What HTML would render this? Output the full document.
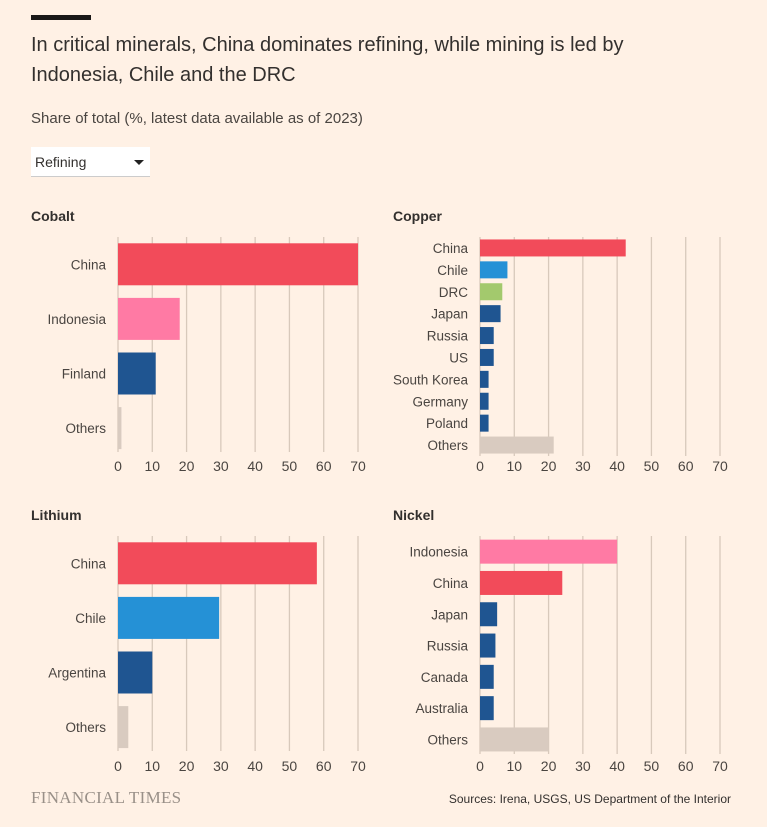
<!DOCTYPE html>
<html><head><meta charset="utf-8"><style>
body{margin:0;background:#fff1e5;font-family:"Liberation Sans",sans-serif;}
#wrap{position:relative;width:767px;height:827px;overflow:hidden;background:#fff1e5;}
.abs{position:absolute;}
</style></head><body>
<div id="wrap">
<div class="abs" style="left:31px;top:15px;width:60px;height:5px;background:#1a1817"></div>
<div class="abs" style="left:31px;top:30px;width:650px;font-size:20px;line-height:30px;color:#33302e">In critical minerals, China dominates refining, while mining is led by Indonesia, Chile and the DRC</div>
<div class="abs" style="left:31px;top:110px;font-size:15px;color:#4a4541">Share of total (%, latest data available as of 2023)</div>
<div class="abs" style="left:31px;top:147px;width:119px;height:30px;background:#fff;border-bottom:1px solid #ccc;font-size:14px;color:#33302e;line-height:30px;padding-left:4px;box-sizing:border-box">Refining<span style="position:absolute;right:6px;top:13px;width:0;height:0;border-left:5px solid transparent;border-right:5px solid transparent;border-top:5px solid #222"></span></div>
<svg id="svg" class="abs" style="left:0;top:0" width="767" height="827"></svg>
<div class="abs" style="left:31px;top:788px;font-family:'Liberation Serif',serif;font-size:17px;color:#999088;letter-spacing:0.3px">FINANCIAL TIMES</div>
<div class="abs" style="right:36px;top:792px;font-size:12px;color:#33302e">Sources: Irena, USGS, US Department of the Interior</div>
</div>
<script>
const cobaltCats=["China","Indonesia","Finland","Others"];
const cobaltVals=[70,18,11,1];
const copperCats=["China","Chile","DRC","Japan","Russia","US","South Korea","Germany","Poland","Others"];
const copperVals=[42.5,8,6.5,6,4,4,2.5,2.5,2.5,21.5];
const lithiumCats=["China","Chile","Argentina","Others"];
const lithiumVals=[58,29.5,10,3];
const nickelCats=["Indonesia","China","Japan","Russia","Canada","Australia","Others"];
const nickelVals=[40,24,5,4.5,4,4,20];
const ticks=[0,10,20,30,40,50,60,70];
const C={red:"#f24b5a",pink:"#ff7aa4",blue:"#1f5591",lblue:"#2591d6",green:"#a3c96d",other:"#d9cbc0"};
const cobaltCols=[C.red,C.pink,C.blue,C.other];
const copperCols=[C.red,C.lblue,C.green,C.blue,C.blue,C.blue,C.blue,C.blue,C.blue,C.other];
const lithiumCols=[C.red,C.lblue,C.blue,C.other];
const nickelCols=[C.pink,C.red,C.blue,C.blue,C.blue,C.blue,C.other];
const svg=document.getElementById('svg');
const NS="http://www.w3.org/2000/svg";
function mk(t,a){const e=document.createElementNS(NS,t);for(const k in a)e.setAttribute(k,a[k]);svg.appendChild(e);return e;}
function panel(name,title,cats,vals,cols,x0,titleX,titleY,gridTop,top,bottom,band,barH,tickY){
  const w=240,max=70;
  const xs=v=>x0+v/max*w;
  const t=mk('text',{x:titleX,y:titleY,'font-size':14,'font-weight':'bold',fill:'#33302e'});
  t.textContent=title;
  
  
  ticks.forEach(v=>{
    const l=mk('line',{x1:xs(v),x2:xs(v),y1:gridTop,y2:bottom,stroke:'#d8c9bb','stroke-width':1.3});
    
    
    const tl=mk('text',{x:xs(v),y:tickY,'font-size':14,fill:'#4a4541','text-anchor':'middle'});
    tl.textContent=v;
    
    
  });
  cats.forEach((c,i)=>{
    const cy=top+band*(i+0.5);
    const r=mk('rect',{x:x0,y:cy-barH/2,width:Math.max(0,xs(vals[i])-x0),height:barH,fill:cols[i]});
    
    
    const lb=mk('text',{x:x0-12,y:cy+5,'font-size':13.5,fill:'#4a4541','text-anchor':'end'});
    lb.textContent=c;
    
    
  });
}
panel('cobalt','Cobalt',cobaltCats,cobaltVals,cobaltCols,118,31,221,237,237,452,54.6,42,471);
panel('copper','Copper',copperCats,copperVals,copperCols,480,393,221,237,237,456,21.9,17,471);
panel('lithium','Lithium',lithiumCats,lithiumVals,lithiumCols,118,31,520,536,536,751,54.6,42,771);
panel('nickel','Nickel',nickelCats,nickelVals,nickelCols,480,393,520,536,536,754,31.3,24,771);
</script>
</body></html>
